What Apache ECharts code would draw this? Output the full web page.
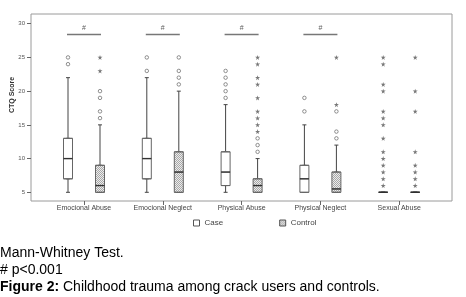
<!DOCTYPE html>
<html>
<head>
<meta charset="utf-8">
<style>
  html, body { margin: 0; padding: 0; background: #fff; }
  #chart { width: 466px; height: 297px; }
</style>
<script src="https://cdn.jsdelivr.net/npm/echarts@6/dist/echarts.min.js"></script>
</head>
<body>
<div id="chart"></div>
<script>
const categories = ['Emocional Abuse', 'Emocional Neglect', 'Physical Abuse', 'Physical Neglect', 'Sexual Abuse'];
// [min, Q1, median, Q3, max]
const caseBox = [[5, 7, 10, 13, 22], [5, 7, 10, 13, 22], [5, 6, 8, 11, 18], [5, 5, 7, 9, 15], [5, 5, 5, 5, 5]];
const controlBox = [[5, 5, 6, 9, 15], [5, 5, 8, 11, 20], [5, 5, 6, 7, 10], [5, 5, 5.5, 8, 12], [5, 5, 5, 5, 5]];
const caseCircles = [[24, 25], [23, 25], [19, 20, 21, 22, 23], [17, 19], []];
const caseStars = [[], [], [], [], [6, 7, 8, 9, 10, 11, 13, 15, 16, 17, 20, 21, 24, 25]];
const controlCircles = [[16, 17, 19, 20], [21, 22, 23, 25], [11, 12, 13], [13, 14, 17], []];
const controlStars = [[23, 25], [], [14, 15, 16, 17, 19, 21, 22, 24, 25], [18, 25], [6, 7, 8, 9, 11, 17, 20, 25]];
const significant = ['Emocional Abuse', 'Emocional Neglect', 'Physical Abuse', 'Physical Neglect'];
const sigLevel = 28.4;
const yTicks = [5, 10, 15, 20, 25, 30];
const yMin = 3.71;
const yMax = 31.44;

const star = 'path://M50,0 L61,35 L98,35 L68,57 L79,91 L50,70 L21,91 L32,57 L2,35 L39,35 Z';

// dotted fill used for the control boxes
const pat = document.createElement('canvas');
pat.width = 2;
pat.height = 2;
const pctx = pat.getContext('2d');
pctx.fillStyle = '#ececec';
pctx.fillRect(0, 0, 2, 2);
pctx.fillStyle = '#a8a8a8';
pctx.fillRect(0, 0, 1, 1);
pctx.fillRect(1, 1, 1, 1);
const dotted = { image: pat, repeat: 'repeat' };

const points = (lists) => lists.flatMap((vals, i) => vals.map(v => [categories[i], v]));
const boxOnly = (list) => list.map(b => [b[1], b[1], b[2], b[3], b[3]]);
const medians = (list) => list.map((b, i) => [categories[i], b[2]]);

const gridTop = 14, gridHeight = 187, bandLeft = 44.6, bandWidth = 394, shift = 16;
const hiddenY = (gridIndex) => ({ type: 'value', gridIndex, min: yMin, max: yMax, show: false });
const hiddenX = (gridIndex, position) => ({ type: 'category', gridIndex, data: categories, position, show: false });

function groupSeries(name, list, xBox, xWhisker, yIndex, fill, circles, stars) {
  return [
    {
      name: name + ' whisker',
      type: 'boxplot',
      xAxisIndex: xWhisker,
      yAxisIndex: yIndex,
      boxWidth: [4, 4],
      z: 2,
      silent: true,
      itemStyle: { color: '#fff', borderColor: '#444', borderWidth: 1 },
      data: list
    },
    {
      name: name,
      type: 'boxplot',
      xAxisIndex: xBox,
      yAxisIndex: yIndex,
      boxWidth: [9, 9],
      z: 3,
      silent: true,
      itemStyle: { color: fill, borderColor: '#666', borderWidth: 1 },
      data: boxOnly(list)
    },
    {
      name: name + ' median',
      type: 'scatter',
      xAxisIndex: xBox,
      yAxisIndex: yIndex,
      symbol: 'rect',
      symbolSize: [9, 1.4],
      z: 4,
      silent: true,
      itemStyle: { color: '#222' },
      data: medians(list)
    },
    {
      name: name + ' outliers',
      type: 'scatter',
      xAxisIndex: xBox,
      yAxisIndex: yIndex,
      symbol: 'circle',
      symbolSize: 3.5,
      z: 4,
      silent: true,
      itemStyle: { color: '#fff', borderColor: '#666', borderWidth: 0.9 },
      data: points(circles)
    },
    {
      name: name + ' extremes',
      type: 'scatter',
      xAxisIndex: xBox,
      yAxisIndex: yIndex,
      symbol: star,
      symbolSize: 5,
      z: 4,
      silent: true,
      itemStyle: { color: '#555' },
      data: points(stars)
    }
  ];
}

const chart = echarts.init(document.getElementById('chart'));

const option = {
  animation: false,
  backgroundColor: '#fff',
  textStyle: { fontFamily: 'Liberation Sans' },
  grid: [
    // frame
    { left: 31, top: gridTop, width: 421, height: gridHeight, show: true, borderColor: '#9a9a9a', borderWidth: 1, backgroundColor: 'transparent', outerBoundsMode: 'none' },
    // category labels
    { left: bandLeft, top: gridTop, width: bandWidth, height: gridHeight, outerBoundsMode: 'none' },
    // case boxes
    { left: bandLeft - shift, top: gridTop, width: bandWidth, height: gridHeight, outerBoundsMode: 'none' },
    // control boxes
    { left: bandLeft + shift, top: gridTop, width: bandWidth, height: gridHeight, outerBoundsMode: 'none' }
  ],
  xAxis: [
    { type: 'value', gridIndex: 0, min: 0, max: 1, show: false },
    {
      type: 'category',
      gridIndex: 1,
      data: categories,
      axisLine: { show: false },
      axisTick: { show: true, alignWithLabel: true, length: 4, lineStyle: { color: '#666' } },
      axisLabel: { fontSize: 7, color: '#444', margin: 4 }
    },
    hiddenX(2, 'bottom'),
    hiddenX(2, 'top'),
    hiddenX(3, 'bottom'),
    hiddenX(3, 'top')
  ],
  yAxis: [
    {
      type: 'value',
      gridIndex: 0,
      min: yMin,
      max: yMax,
      axisLine: { show: false },
      splitLine: { show: false },
      axisTick: { show: true, length: 4, customValues: yTicks, lineStyle: { color: '#666' } },
      axisLabel: { fontSize: 6, color: '#555', margin: 6, customValues: yTicks }
    },
    hiddenY(1),
    hiddenY(2),
    hiddenY(3)
  ],
  legend: {
    left: 193,
    top: 219,
    padding: 0,
    itemWidth: 6,
    itemHeight: 6,
    itemGap: 56,
    selectedMode: false,
    textStyle: { fontSize: 8, color: '#444', fontFamily: 'Liberation Sans' },
    data: [
      { name: 'Case', icon: 'rect', itemStyle: { color: '#fff', borderColor: '#555', borderWidth: 1 } },
      { name: 'Control', icon: 'rect', itemStyle: { color: dotted, borderColor: '#555', borderWidth: 1 } }
    ]
  },
  graphic: [
    {
      type: 'text',
      x: 12,
      y: 95,
      rotation: Math.PI / 2,
      style: { text: 'CTQ Score', font: 'bold 7px Liberation Sans', fill: '#333', align: 'center', verticalAlign: 'middle' }
    },
    {
      type: 'text',
      x: 0,
      y: 253,
      style: { text: 'Mann-Whitney Test.', font: '14px Liberation Sans', fill: '#000', verticalAlign: 'middle' }
    },
    {
      type: 'text',
      x: 0,
      y: 270,
      style: { text: '# p<0.001', font: '14px Liberation Sans', fill: '#000', verticalAlign: 'middle' }
    },
    {
      type: 'text',
      x: 0,
      y: 287,
      style: {
        text: '{b|Figure 2:} Childhood trauma among crack users and controls.',
        font: '14px Liberation Sans',
        fill: '#000',
        verticalAlign: 'middle',
        rich: { b: { fontWeight: 'bold', fontSize: 14, fontFamily: 'Liberation Sans' } }
      }
    }
  ],
  series: [
    ...groupSeries('Case', caseBox, 2, 3, 2, '#fff', caseCircles, caseStars),
    ...groupSeries('Control', controlBox, 4, 5, 3, dotted, controlCircles, controlStars),
    {
      name: 'significance',
      type: 'scatter',
      xAxisIndex: 1,
      yAxisIndex: 1,
      symbol: 'rect',
      symbolSize: [34, 1.6],
      silent: true,
      itemStyle: { color: '#555' },
      label: { show: true, position: 'top', distance: 2, formatter: '#', fontSize: 7, color: '#333' },
      data: significant.map(c => [c, sigLevel])
    }
  ]
};

chart.setOption(option);
</script>
</body>
</html>
